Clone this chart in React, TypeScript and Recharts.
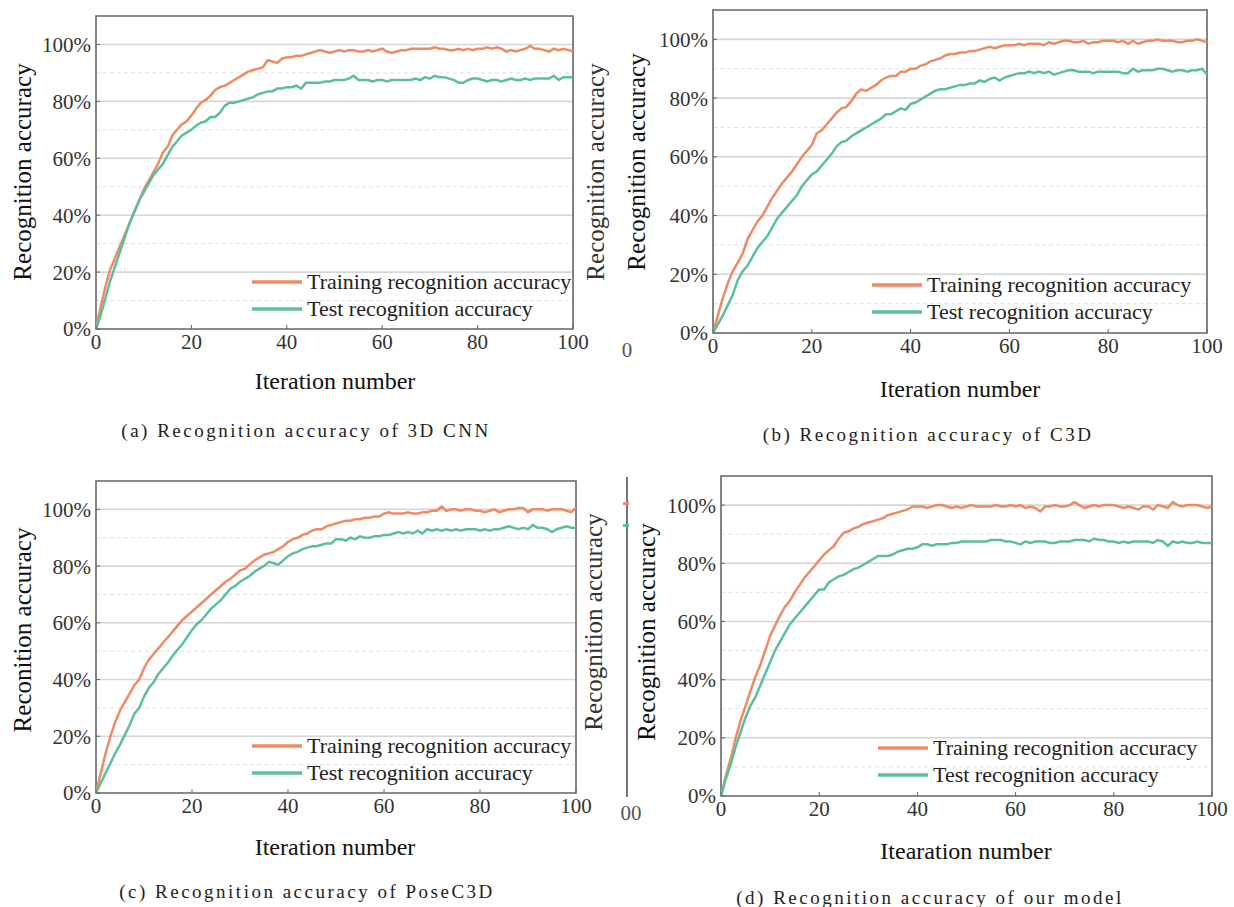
import React from 'react';
import { LineChart, Line, XAxis, YAxis, CartesianGrid, ReferenceArea, Legend } from 'recharts';

// ---------- data ----------
const ITERATIONS = Array.from({ length: 101 }, (_, i) => i);
const X_TICKS = [0, 20, 40, 60, 80, 100];
const Y_TICKS = [0, 20, 40, 60, 80, 100];
const MAJOR_GRID = [20, 40, 60, 80, 100];
const MINOR_GRID = [10, 30, 50, 70, 90];
const SERIES_NAMES = ['Training recognition accuracy', 'Test recognition accuracy'];
const COLORS = ['#EF8A62', '#5BBF9E'];

const CNN3D_TRAIN = [
  0, 8, 15, 21, 25, 29, 33, 37, 41, 45,
  49, 52, 55, 58, 62, 64, 68, 70, 72, 73,
  75, 77.5, 79.5, 80.5, 82, 84, 85, 85.5, 86.5, 87.5,
  88.5, 89.5, 90.5, 91, 91.5, 92, 94.5, 94, 93.5, 95,
  95.5, 95.5, 96, 96, 96.5, 97, 97.5, 98, 97.5, 97,
  97.5, 98, 97.5, 98, 98, 97.5, 97.5, 98, 97.5, 98,
  98.5, 97.5, 97, 97.5, 98, 98, 98.5, 98.5, 98.5, 98.5,
  98.5, 99, 98.5, 98.5, 98, 98, 98.5, 98, 98.5, 98,
  98.5, 98.5, 99, 98.5, 99, 98.5, 97.5, 98, 97.5, 98,
  98.5, 99.5, 98.5, 98.5, 98, 97.5, 98.5, 98, 98.5, 98,
  97.5,
];
const CNN3D_TEST = [
  0, 5, 11, 17, 22, 27, 32, 37, 41, 45,
  48, 51, 54, 56, 58, 61, 64, 66, 68, 69,
  70, 71.5, 72.5, 73, 74.5, 74.5, 76, 78.5, 79.5, 79.5,
  80, 80.5, 81, 81.5, 82.5, 83, 83.5, 83.5, 84.5, 84.5,
  85, 85, 85.5, 84.5, 86.5, 86.5, 86.5, 86.5, 87, 87,
  87.5, 87.5, 87.5, 88, 89, 87.5, 87.5, 87.5, 87, 87.5,
  87.5, 87, 87.5, 87.5, 87.5, 87.5, 87.5, 88, 87.5, 88.5,
  88, 89, 88.5, 88.5, 88, 87.5, 86.5, 86.5, 87.5, 88,
  88, 87.5, 87, 87.5, 87.5, 87, 87.5, 88, 87.5, 87.5,
  88, 87.5, 88, 88, 88, 88, 89, 87.5, 88.5, 88.5,
  88.5,
];

const C3D_TRAIN = [
  0, 6, 12, 17, 21, 24, 27, 32, 35, 38,
  40, 43, 46, 48.5, 51, 53, 55, 57.5, 60, 62,
  64, 68, 69, 71, 73, 75, 76.5, 77, 79, 81.5,
  83, 82.5, 83.5, 84.5, 86, 87, 87.5, 87.5, 89, 89,
  90, 90, 91, 91.5, 92.5, 93, 93.5, 94.5, 95, 95,
  95.5, 95.5, 96, 96, 96.5, 97, 97.5, 97, 97.5, 98,
  98, 98, 98.5, 98, 98.5, 98.5, 98.5, 98, 99, 98.5,
  99, 99.5, 99.5, 99, 99, 99.5, 98.5, 99, 99, 99.5,
  99.5, 99.5, 99, 99.5, 98.5, 99.5, 98.5, 99, 99.5, 99.5,
  100, 99.5, 99.5, 99.5, 99, 99, 99.5, 99.5, 100, 99.5,
  99,
];
const C3D_TEST = [
  0, 3, 6, 9.5, 13, 18, 21, 23, 26, 29,
  31, 33, 36, 39, 41, 43, 45, 47, 50, 52,
  54, 55, 57, 59, 61, 63.5, 65, 65.5, 67, 68,
  69, 70, 71, 72, 73, 74.5, 74.5, 75.5, 76.5, 76,
  78, 78.5, 79.5, 80.5, 81.5, 82.5, 83, 83, 83.5, 84,
  84.5, 84.5, 85, 85, 86, 85.5, 86.5, 87, 86, 87,
  87.5, 88, 88.5, 88.5, 89, 88.5, 89, 88.5, 89, 88,
  88.5, 89, 89.5, 89.5, 89, 89, 89, 88.5, 89, 89,
  89, 89, 89, 88.5, 88.5, 90, 89, 89.5, 89.5, 89.5,
  90, 90, 89.5, 89, 89.5, 89.5, 89, 89.5, 89.5, 90,
  88,
];

const POSEC3D_TRAIN = [
  0, 7, 14, 20, 25, 29, 32, 35, 38, 40,
  44, 47, 49, 51, 53, 55, 57, 59, 61, 62.5,
  64, 65.5, 67, 68.5, 70, 71.5, 73, 74.5, 75.5, 77,
  78.5, 79, 80.5, 82, 83, 84, 84.5, 85, 86, 87,
  88.5, 89.5, 90, 91, 91.5, 92.5, 93, 93, 94, 94.5,
  95, 95.5, 96, 96, 96.5, 96.5, 97, 97, 97.5, 97.5,
  98.5, 99, 98.5, 98.5, 98.5, 99, 98.5, 98.5, 99, 99,
  99.5, 99.5, 101, 99.5, 100, 100, 99.5, 100, 100, 99.5,
  99.5, 99, 99.5, 100, 99, 99.5, 100, 100, 100.5, 100.5,
  99, 100, 100, 100, 99.5, 100, 100, 100, 99.5, 99,
  100.5,
];
const POSEC3D_TEST = [
  0, 3.5, 7, 10.5, 14, 17, 20.5, 24, 28, 30,
  34, 37, 39, 42, 44, 46, 48.5, 50.5, 52.5, 55,
  57.5, 59.5, 61, 63, 65, 66.5, 68, 70, 72, 73,
  74.5, 75.5, 76.5, 78, 79, 80, 81.5, 81, 80.5, 82,
  83.5, 84.5, 85, 86, 86.5, 87, 87, 87.5, 88, 88,
  89.5, 89.5, 89, 90, 89.5, 90.5, 90, 90, 90.5, 90.5,
  91, 91, 91.5, 92, 91.5, 92, 91.5, 92.5, 91.5, 93,
  92.5, 93, 92.5, 93, 92.5, 93, 92.5, 93, 93, 93,
  92.5, 93, 92.5, 93, 93, 93.5, 94, 93.5, 93, 93.5,
  93, 94.5, 93.5, 93.5, 93, 92, 93, 93.5, 94, 93.5,
  93.5,
];

const OURS_TRAIN = [
  0, 7, 13, 20, 26, 31, 36, 41, 45, 50,
  55, 58.5, 62, 65, 67, 70, 72.5, 75, 77, 79,
  81, 83, 84.5, 86, 88.5, 90.5, 91, 92, 92.5, 93.5,
  94, 94.5, 95, 95.5, 96.5, 97, 97.5, 98, 98.5, 99.5,
  99.5, 99.5, 99, 99.5, 100, 100, 99.5, 99, 99.5, 99,
  99.5, 100, 99.5, 99.5, 99.5, 99.5, 100, 99.5, 99.5, 100,
  99.5, 100, 99, 99.5, 99, 97.8, 99.5, 99.5, 100, 99.5,
  99.5, 100, 101, 100, 99, 99.5, 100, 99.5, 100, 100,
  100, 99.5, 99, 99.5, 99, 98.5, 99.5, 99.5, 98.5, 100,
  99.5, 99, 101, 100, 99.5, 100, 100, 100, 99.5, 99,
  99.5,
];
const OURS_TEST = [
  0, 6, 11, 17, 22, 27, 31, 34, 38, 42,
  46, 50, 53, 56, 59, 61, 63, 65, 67, 69,
  71, 71, 73.5, 74.5, 75.5, 76, 77, 78, 78.5, 79.5,
  80.5, 81.5, 82.5, 82.5, 82.5, 83, 84, 84.5, 85, 85,
  85.5, 86.5, 86.5, 86, 86.5, 86.5, 86.5, 87, 87, 87.5,
  87.5, 87.5, 87.5, 87.5, 87.5, 88, 88, 88, 87.5, 87.5,
  87, 86.5, 87.5, 87, 87.5, 87.5, 87.5, 87, 87, 87.5,
  87.5, 87.5, 88, 88, 88, 87.5, 88.5, 88, 88, 87.5,
  87.5, 87, 87.5, 87, 87.5, 87.5, 87.5, 87.5, 87, 88,
  87.5, 86, 87.5, 87, 87.5, 87, 87, 87.5, 87, 87,
  87,
];

// ---------- styling ----------
const SERIF = "'Liberation Serif', 'DejaVu Serif', serif";
const TICK_STYLE = { fill: '#333', fontFamily: SERIF, fontSize: 21 };
const BOX = '#666';

type PanelCfg = {
  left: number; top: number; width: number; height: number;
  plotL: number; plotR: number; plotT: number; plotB: number;
  legendX: number; legendY: number;
  train: number[]; test: number[];
};

const renderLegend = () => (
  <div style={{ fontFamily: SERIF, fontSize: 22, color: '#222', lineHeight: '27px' }}>
    {SERIES_NAMES.map((name, i) => (
      <div key={name} style={{ display: 'flex', alignItems: 'center', whiteSpace: 'nowrap', height: 27 }}>
        <svg width={50} height={8} style={{ display: 'block' }}>
          <line x1={0} y1={4} x2={50} y2={4} stroke={COLORS[i]} strokeWidth={3.5} />
        </svg>
        <span style={{ marginLeft: 5 }}>{name}</span>
      </div>
    ))}
  </div>
);

function Panel(cfg: PanelCfg) {
  const { left, top, width, height, plotL, plotR, plotT, plotB, legendX, legendY, train, test } = cfg;
  const data = ITERATIONS.map((it, i) => ({ it, train: train[i], test: test[i] }));
  return (
    <div style={{ position: 'absolute', left, top, width, height }}>
      <LineChart
        width={width}
        height={height}
        data={data}
        margin={{ top: plotT - top, right: left + width - plotR, left: 0, bottom: 0 }}
      >
        <CartesianGrid vertical={false} horizontalValues={MINOR_GRID} stroke="#e0e0e0" strokeDasharray="4 3" />
        <CartesianGrid vertical={false} horizontalValues={MAJOR_GRID} stroke="#d6d6d6" strokeWidth={1.6} />
        <XAxis
          type="number"
          dataKey="it"
          domain={[0, 100]}
          ticks={X_TICKS}
          interval={0}
          height={top + height - plotB}
          axisLine={false}
          tickLine={{ stroke: BOX }}
          tickSize={-4}
          tickMargin={9}
          tick={TICK_STYLE}
        />
        <YAxis
          type="number"
          domain={[0, 110]}
          ticks={Y_TICKS}
          interval={0}
          width={plotL - left}
          axisLine={false}
          tickLine={{ stroke: BOX }}
          tickSize={-4}
          tickMargin={9}
          tick={TICK_STYLE}
          tickFormatter={(v: number) => `${v}%`}
        />
        <Line type="linear" dataKey="train" name={SERIES_NAMES[0]} stroke={COLORS[0]} strokeWidth={2.5} dot={false} isAnimationActive={false} />
        <Line type="linear" dataKey="test" name={SERIES_NAMES[1]} stroke={COLORS[1]} strokeWidth={2.5} dot={false} isAnimationActive={false} />
        <ReferenceArea x1={0} x2={100} y1={0} y2={110} fill="none" stroke={BOX} strokeWidth={1.6} />
        <Legend
          layout="vertical"
          align="center"
          verticalAlign="middle"
          content={renderLegend}
          wrapperStyle={{ left: legendX - left, top: legendY - top, width: 'auto', height: 'auto' }}
        />
      </LineChart>
    </div>
  );
}

const PANELS: PanelCfg[] = [
  { left: 0, top: 0, width: 612, height: 450, plotL: 96, plotR: 573, plotT: 16, plotB: 329, legendX: 252, legendY: 268, train: CNN3D_TRAIN, test: CNN3D_TEST },
  { left: 612, top: 0, width: 622, height: 450, plotL: 713, plotR: 1207, plotT: 10, plotB: 333, legendX: 872, legendY: 271, train: C3D_TRAIN, test: C3D_TEST },
  { left: 0, top: 450, width: 612, height: 457, plotL: 96, plotR: 576, plotT: 481, plotB: 793, legendX: 252, legendY: 732, train: POSEC3D_TRAIN, test: POSEC3D_TEST },
  { left: 612, top: 450, width: 622, height: 457, plotL: 721, plotR: 1212, plotT: 476, plotB: 796, legendX: 878, legendY: 734, train: OURS_TRAIN, test: OURS_TEST },
];

function RotText({ x, y, text, size = 25, color = '#111' }: { x: number; y: number; text: string; size?: number; color?: string }) {
  return (
    <div style={{ position: 'absolute', left: x, top: y, transform: 'translate(-50%,-50%) rotate(-90deg)', whiteSpace: 'nowrap', fontFamily: SERIF, fontSize: size, color, lineHeight: 1 }}>
      {text}
    </div>
  );
}

function CText({ x, y, text, size = 24, color = '#111', spacing = 0 }: { x: number; y: number; text: string; size?: number; color?: string; spacing?: number }) {
  return (
    <div style={{ position: 'absolute', left: x, top: y, transform: 'translate(-50%,-50%)', whiteSpace: 'nowrap', fontFamily: SERIF, fontSize: size, color, lineHeight: 1, letterSpacing: spacing }}>
      {text}
    </div>
  );
}

export default function App() {
  return (
    <div style={{ position: 'absolute', left: 0, top: 0, width: 1234, height: 907, background: '#fff', overflow: 'hidden', fontFamily: SERIF }}>
      {PANELS.map((p, i) => (
        <Panel key={i} {...p} />
      ))}
      <div style={{ position: 'absolute', left: 0, top: 0, width: 1234, height: 907, pointerEvents: 'none' }}>
        {/* axis titles */}
        <RotText x={22} y={172} text="Recognition accuracy" />
        <CText x={335} y={381} text="Iteration number" />
        <RotText x={636} y={162} text="Recognition accuracy" />
        <CText x={960} y={389} text="Iteration number" />
        <RotText x={22} y={630} text="Reconition accuracy" />
        <CText x={335} y={847} text="Iteration number" />
        <RotText x={646} y={632} text="Recognition accuracy" />
        <CText x={966} y={851} text="Itearation number" />

        {/* cropped fragments of neighbouring figures */}
        <RotText x={595} y={172} text="Recognition accuracy" color="#333" />
        <RotText x={593} y={622} text="Recognition accuracy" color="#333" />
        <CText x={627} y={350} text="0" size={21} color="#555" />
        <CText x={631} y={813} text="00" size={21} color="#555" />
        <div style={{ position: 'absolute', left: 626, top: 477, width: 1.5, height: 320, background: '#777' }} />
        <div style={{ position: 'absolute', left: 623, top: 502, width: 6, height: 3, background: COLORS[0] }} />
        <div style={{ position: 'absolute', left: 623, top: 524, width: 6, height: 3, background: COLORS[1] }} />

        {/* captions */}
        <CText x={306} y={430} text="(a) Recognition accuracy of 3D CNN" size={19} spacing={2.5} color="#222" />
        <CText x={928} y={434} text="(b) Recognition accuracy of C3D" size={19} spacing={2.5} color="#222" />
        <CText x={307} y={891} text="(c) Recognition accuracy of PoseC3D" size={19} spacing={2.5} color="#222" />
        <CText x={930} y={897} text="(d) Recognition accuracy of our model" size={19} spacing={2.5} color="#222" />
      </div>
    </div>
  );
}
